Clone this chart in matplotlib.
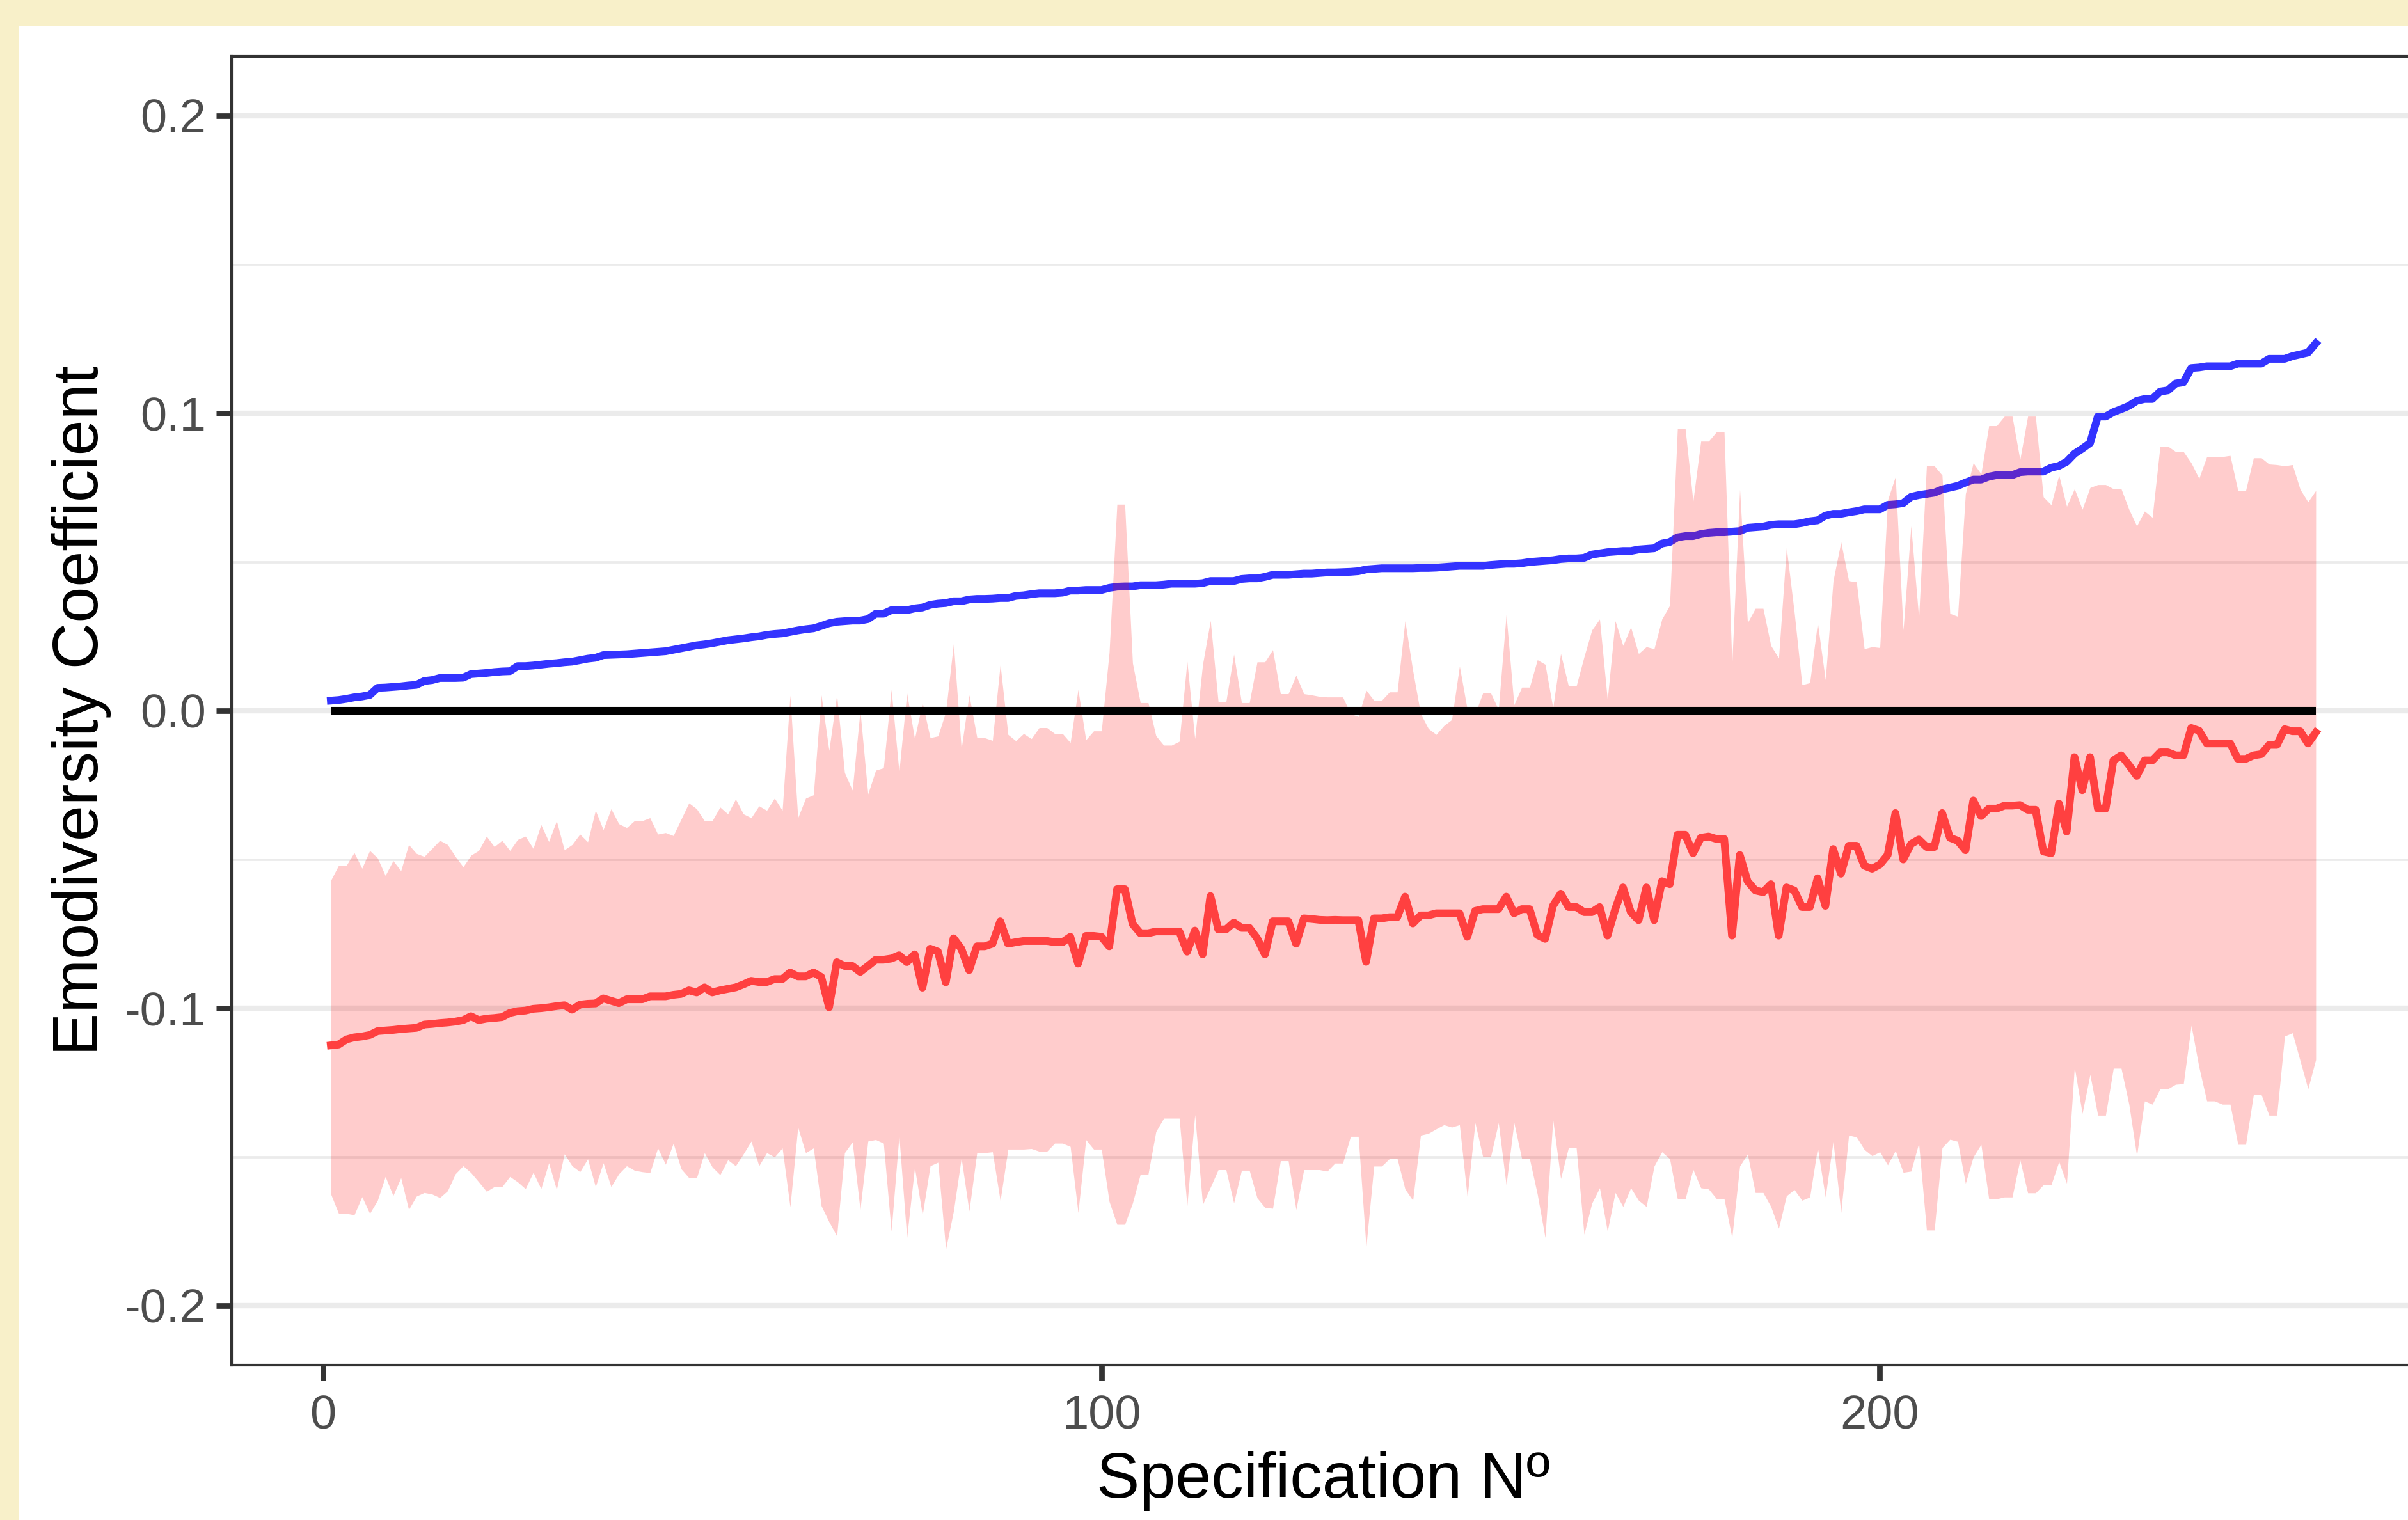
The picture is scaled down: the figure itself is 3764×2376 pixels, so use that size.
import numpy as np
import matplotlib
matplotlib.use("Agg")
import matplotlib.pyplot as plt
from matplotlib.patches import Rectangle

# specification number 1..256
spec = np.arange(1, 257)

# blue line (sorted coefficient)
blue_coef = [
    0.0034, 0.0036, 0.0040, 0.0045, 0.0048, 0.0053, 0.0077, 0.0078, 0.0080, 0.0082,
    0.0085, 0.0087, 0.0100, 0.0103, 0.0110, 0.0110, 0.0110, 0.0111, 0.0123, 0.0125,
    0.0127, 0.0130, 0.0132, 0.0133, 0.0150, 0.0150, 0.0152, 0.0155, 0.0158, 0.0160,
    0.0163, 0.0165, 0.0170, 0.0175, 0.0178, 0.0187, 0.0188, 0.0189, 0.0190, 0.0192,
    0.0194, 0.0196, 0.0198, 0.0200, 0.0205, 0.0210, 0.0215, 0.0220, 0.0223, 0.0227,
    0.0232, 0.0237, 0.0240, 0.0243, 0.0247, 0.0250, 0.0255, 0.0258, 0.0260, 0.0265,
    0.0270, 0.0274, 0.0277,
    0.0285, 0.0294, 0.0299, 0.0301, 0.0303, 0.0303, 0.0308, 0.0326, 0.0326, 0.0338,
    0.0338, 0.0338, 0.0344, 0.0347, 0.0356, 0.0360, 0.0362, 0.0368, 0.0368, 0.0374,
    0.0376, 0.0376, 0.0377, 0.0379, 0.0379, 0.0386, 0.0388, 0.0392, 0.0395, 0.0395,
    0.0395, 0.0397, 0.0404, 0.0404, 0.0406, 0.0406, 0.0406, 0.0413, 0.0417, 0.0418,
    0.0418, 0.0422, 0.0422, 0.0422, 0.0424, 0.0427, 0.0427, 0.0427, 0.0427, 0.0429,
    0.0436, 0.0436, 0.0436, 0.0436, 0.0443, 0.0445, 0.0445, 0.0450, 0.0457, 0.0457,
    0.0457, 0.0459, 0.0461, 0.0461, 0.0463,
    0.0465, 0.0465, 0.0466, 0.0467, 0.0469, 0.0475, 0.0477, 0.0479, 0.0479, 0.0479,
    0.0479, 0.0479, 0.0480, 0.0480, 0.0481, 0.0483, 0.0485, 0.0487, 0.0487, 0.0487,
    0.0487, 0.0490, 0.0492, 0.0494, 0.0494, 0.0496, 0.0500, 0.0502, 0.0504, 0.0506,
    0.0510, 0.0512, 0.0512, 0.0514, 0.0525, 0.0529, 0.0533, 0.0535, 0.0537, 0.0537,
    0.0542, 0.0544, 0.0546, 0.0562, 0.0567, 0.0583, 0.0587, 0.0587, 0.0594, 0.0598,
    0.0600, 0.0600, 0.0602, 0.0604, 0.0615, 0.0617, 0.0619, 0.0625, 0.0627, 0.0627,
    0.0627, 0.0631, 0.0637, 0.0640, 0.0656,
    0.0662, 0.0662, 0.0667, 0.0671, 0.0677, 0.0677, 0.0677, 0.0692, 0.0694, 0.0698,
    0.0719, 0.0725, 0.0729, 0.0733, 0.0744, 0.0750, 0.0756, 0.0767, 0.0777, 0.0777,
    0.0787, 0.0792, 0.0792, 0.0792, 0.0802, 0.0804, 0.0804, 0.0804, 0.0817, 0.0823,
    0.0837, 0.0864, 0.0881, 0.0900, 0.0989, 0.0989, 0.1004, 0.1014, 0.1025, 0.1042,
    0.1048, 0.1048, 0.1073, 0.1077, 0.1100, 0.1104, 0.1152, 0.1154, 0.1158, 0.1158,
    0.1158, 0.1158, 0.1167, 0.1167, 0.1167, 0.1167, 0.1183, 0.1183, 0.1183, 0.1192,
    0.1198, 0.1204, 0.1235,
]

# red line (estimate)
red_coef = [
    -0.1125, -0.1122, -0.1105, -0.1098, -0.1095, -0.1090, -0.1077, -0.1075, -0.1073, -0.1070,
    -0.1068, -0.1066, -0.1055, -0.1053, -0.1050, -0.1048, -0.1045, -0.1040, -0.1027, -0.1040,
    -0.1035, -0.1033, -0.1030, -0.1016, -0.1010, -0.1008, -0.1002, -0.1000, -0.0997, -0.0993,
    -0.0990, -0.1005, -0.0988, -0.0985, -0.0984, -0.0967, -0.0975, -0.0983, -0.0970, -0.0970,
    -0.0970, -0.0960, -0.0960, -0.0960, -0.0955, -0.0952, -0.0940, -0.0947, -0.0930, -0.0947,
    -0.0940, -0.0935, -0.0930, -0.0920, -0.0908, -0.0912, -0.0912, -0.0902, -0.0902, -0.0880,
    -0.0893, -0.0893, -0.0880,
    -0.0895, -0.0997, -0.0845, -0.0858, -0.0858, -0.0878, -0.0858, -0.0837, -0.0837, -0.0833,
    -0.0822, -0.0845, -0.0819, -0.0931, -0.0800, -0.0810, -0.0913, -0.0765, -0.0800, -0.0872,
    -0.0792, -0.0792, -0.0783, -0.0708, -0.0783, -0.0778, -0.0774, -0.0774, -0.0774, -0.0774,
    -0.0778, -0.0778, -0.0760, -0.0850, -0.0757, -0.0757, -0.0760, -0.0792, -0.0600, -0.0600,
    -0.0717, -0.0748, -0.0748, -0.0742, -0.0742, -0.0742, -0.0742, -0.0810, -0.0739, -0.0819,
    -0.0623, -0.0735, -0.0735, -0.0712, -0.0730, -0.0730, -0.0765, -0.0819, -0.0708, -0.0708,
    -0.0708, -0.0783, -0.0698, -0.0700, -0.0703,
    -0.0704, -0.0703, -0.0704, -0.0704, -0.0704, -0.0844, -0.0698, -0.0698, -0.0694, -0.0694,
    -0.0625, -0.0715, -0.0688, -0.0688, -0.0681, -0.0681, -0.0681, -0.0681, -0.0760, -0.0673,
    -0.0667, -0.0667, -0.0667, -0.0625, -0.0681, -0.0667, -0.0667, -0.0754, -0.0767, -0.0656,
    -0.0615, -0.0660, -0.0660, -0.0677, -0.0677, -0.0660, -0.0756, -0.0667, -0.0594, -0.0677,
    -0.0704, -0.0594, -0.0704, -0.0573, -0.0583, -0.0417, -0.0417, -0.0479, -0.0427, -0.0423,
    -0.0431, -0.0431, -0.0756, -0.0485, -0.0573, -0.0604, -0.0610, -0.0583, -0.0756, -0.0594,
    -0.0604, -0.0660, -0.0660, -0.0563, -0.0656,
    -0.0465, -0.0548, -0.0454, -0.0454, -0.0521, -0.0531, -0.0517, -0.0485, -0.0344, -0.0500,
    -0.0448, -0.0433, -0.0458, -0.0458, -0.0344, -0.0427, -0.0437, -0.0469, -0.0302, -0.0354,
    -0.0329, -0.0329, -0.0319, -0.0319, -0.0317, -0.0333, -0.0333, -0.0473, -0.0479, -0.0312,
    -0.0406, -0.0156, -0.0267, -0.0156, -0.0329, -0.0329, -0.0167, -0.0150, -0.0183, -0.0219,
    -0.0167, -0.0167, -0.0140, -0.0140, -0.0150, -0.0150, -0.0058, -0.0067, -0.0110, -0.0110,
    -0.0110, -0.0110, -0.0162, -0.0162, -0.0150, -0.0146, -0.0115, -0.0115, -0.0062, -0.0069,
    -0.0069, -0.0110, -0.0073,
]

# confidence band, upper edge
red_upper = [
    -0.0570, -0.0520, -0.0520, -0.0477, -0.0530, -0.0470, -0.0495, -0.0554, -0.0504, -0.0538,
    -0.0450, -0.0480, -0.0490, -0.0463, -0.0436, -0.0450, -0.0490, -0.0525, -0.0486, -0.0470,
    -0.0422, -0.0457, -0.0436, -0.0470, -0.0433, -0.0422, -0.0463, -0.0383, -0.0440, -0.0370,
    -0.0468, -0.0450, -0.0415, -0.0441, -0.0335, -0.0400, -0.0330, -0.0380, -0.0393, -0.0370,
    -0.0370, -0.0360, -0.0415, -0.0410, -0.0420, -0.0365, -0.0310, -0.0330, -0.0370, -0.0370,
    -0.0324, -0.0347, -0.0297, -0.0347, -0.0360, -0.0320, -0.0335, -0.0294, -0.0335, 0.0052,
    -0.0360, -0.0294, -0.0283,
    0.0053, -0.0134, 0.0053, -0.0208, -0.0267, 0.0000, -0.0280, -0.0200, -0.0192, 0.0071,
    -0.0205, 0.0059, -0.0094, 0.0027, -0.0091, -0.0085, -0.0004, 0.0226, -0.0128, 0.0053,
    -0.0089, -0.0091, -0.0100, 0.0155, -0.0080, -0.0101, -0.0077, -0.0094, -0.0057, -0.0057,
    -0.0077, -0.0077, -0.0107, 0.0071, -0.0098, -0.0068, -0.0068, 0.0196, 0.0694, 0.0694,
    0.0160, 0.0027, 0.0027, -0.0084, -0.0116, -0.0116, -0.0103, 0.0166, -0.0094, 0.0155,
    0.0303, 0.0030, 0.0030, 0.0190, 0.0027, 0.0027, 0.0164, 0.0164, 0.0205, 0.0057,
    0.0057, 0.0119, 0.0057, 0.0053, 0.0048,
    0.0046, 0.0046, 0.0046, -0.0010, -0.0020, 0.0069, 0.0035, 0.0035, 0.0063, 0.0063,
    0.0302, 0.0135, -0.0010, -0.0060, -0.0080, -0.0050, -0.0030, 0.0150, 0.0004, -0.0010,
    0.0060, 0.0060, 0.0004, 0.0323, 0.0020, 0.0079, 0.0079, 0.0171, 0.0156, 0.0010,
    0.0192, 0.0083, 0.0083, 0.0181, 0.0271, 0.0308, 0.0037, 0.0302, 0.0219, 0.0281,
    0.0192, 0.0215, 0.0208, 0.0308, 0.0354, 0.0948, 0.0948, 0.0704, 0.0906, 0.0906,
    0.0937, 0.0937, 0.0156, 0.0744, 0.0296, 0.0344, 0.0344, 0.0219, 0.0177, 0.0548,
    0.0333, 0.0087, 0.0094, 0.0296, 0.0104,
    0.0437, 0.0567, 0.0437, 0.0433, 0.0208, 0.0215, 0.0212, 0.0708, 0.0787, 0.0271,
    0.0621, 0.0312, 0.0823, 0.0823, 0.0792, 0.0327, 0.0317, 0.0729, 0.0833, 0.0796,
    0.0958, 0.0958, 0.0990, 0.0990, 0.0844, 0.0990, 0.0990, 0.0719, 0.0692, 0.0792,
    0.0687, 0.0746, 0.0677, 0.0750, 0.0760, 0.0760, 0.0746, 0.0746, 0.0677, 0.0621,
    0.0671, 0.0650, 0.0889, 0.0889, 0.0871, 0.0871, 0.0833, 0.0781, 0.0854, 0.0854,
    0.0854, 0.0858, 0.0740, 0.0740, 0.0850, 0.0850, 0.0829, 0.0827, 0.0823, 0.0827,
    0.0744, 0.0702, 0.0740,
]

# confidence band, lower edge
red_lower = [
    -0.1625, -0.1690, -0.1690, -0.1695, -0.1634, -0.1690, -0.1646, -0.1566, -0.1630, -0.1570,
    -0.1677, -0.1632, -0.1620, -0.1625, -0.1637, -0.1614, -0.1557, -0.1530, -0.1553, -0.1584,
    -0.1616, -0.1600, -0.1600, -0.1566, -0.1584, -0.1607, -0.1552, -0.1607, -0.1520, -0.1610,
    -0.1490, -0.1530, -0.1550, -0.1507, -0.1600, -0.1520, -0.1600, -0.1557, -0.1530, -0.1545,
    -0.1550, -0.1553, -0.1470, -0.1525, -0.1454, -0.1540, -0.1570, -0.1570, -0.1486, -0.1534,
    -0.1560, -0.1510, -0.1530, -0.1490, -0.1447, -0.1530, -0.1486, -0.1500, -0.1470, -0.1668,
    -0.1400, -0.1486, -0.1470,
    -0.1664, -0.1718, -0.1766, -0.1486, -0.1450, -0.1677, -0.1447, -0.1442, -0.1454, -0.1750,
    -0.1429, -0.1771, -0.1536, -0.1695, -0.1530, -0.1518, -0.1810, -0.1682, -0.1504, -0.1682,
    -0.1486, -0.1486, -0.1483, -0.1647, -0.1474, -0.1474, -0.1474, -0.1472, -0.1481, -0.1481,
    -0.1454, -0.1454, -0.1465, -0.1687, -0.1442, -0.1474, -0.1474, -0.1650, -0.1727, -0.1727,
    -0.1655, -0.1558, -0.1558, -0.1415, -0.1370, -0.1370, -0.1370, -0.1664, -0.1358, -0.1660,
    -0.1602, -0.1543, -0.1543, -0.1655, -0.1545, -0.1545, -0.1638, -0.1670, -0.1673, -0.1513,
    -0.1513, -0.1677, -0.1543, -0.1543, -0.1543,
    -0.1548, -0.1521, -0.1521, -0.1431, -0.1431, -0.1802, -0.1531, -0.1531, -0.1506, -0.1506,
    -0.1608, -0.1646, -0.1427, -0.1421, -0.1406, -0.1392, -0.1400, -0.1392, -0.1635, -0.1385,
    -0.1500, -0.1500, -0.1385, -0.1594, -0.1385, -0.1506, -0.1506, -0.1625, -0.1771, -0.1375,
    -0.1573, -0.1469, -0.1469, -0.1760, -0.1656, -0.1604, -0.1750, -0.1620, -0.1667, -0.1604,
    -0.1646, -0.1667, -0.1531, -0.1483, -0.1506, -0.1641, -0.1641, -0.1542, -0.1604, -0.1608,
    -0.1640, -0.1641, -0.1771, -0.1531, -0.1490, -0.1620, -0.1620, -0.1667, -0.1740, -0.1631,
    -0.1610, -0.1646, -0.1635, -0.1469, -0.1635,
    -0.1448, -0.1687, -0.1427, -0.1433, -0.1475, -0.1496, -0.1483, -0.1527, -0.1479, -0.1552,
    -0.1548, -0.1454, -0.1746, -0.1746, -0.1469, -0.1441, -0.1448, -0.1589, -0.1500, -0.1458,
    -0.1641, -0.1641, -0.1635, -0.1635, -0.1510, -0.1621, -0.1621, -0.1594, -0.1594, -0.1516,
    -0.1589, -0.1198, -0.1354, -0.1223, -0.1360, -0.1360, -0.1202, -0.1202, -0.1323, -0.1496,
    -0.1312, -0.1323, -0.1271, -0.1271, -0.1256, -0.1254, -0.1058, -0.1198, -0.1312, -0.1312,
    -0.1323, -0.1323, -0.1458, -0.1458, -0.1291, -0.1291, -0.1360, -0.1360, -0.1094, -0.1083,
    -0.1177, -0.1271, -0.1173,
]

y_ticks = [-0.2, -0.1, 0.0, 0.1, 0.2]
y_ticklabels = ["-0.2", "-0.1", "0.0", "0.1", "0.2"]
y_minor = [-0.15, -0.05, 0.05, 0.15]
x_ticks = [0, 100, 200]

assert len(blue_coef) == len(red_coef) == len(red_upper) == len(red_lower) == len(spec)

plt.rcParams['font.family'] = ['Liberation Sans', 'DejaVu Sans']

W, H, DPI = 3764, 2376, 300
beige = '#F8F0C9'
fig = plt.figure(figsize=(W / DPI, H / DPI), dpi=DPI, facecolor=beige)
# white plot background, beige strip only on left and top
fig.patches.append(Rectangle((29 / W, 0), 1, (H - 40) / H, transform=fig.transFigure,
                             facecolor='white', edgecolor='none', zorder=-10))

# panel runs a little past the right edge of the picture
ax = fig.add_axes([362 / W, (H - 2134) / H, (3775 - 362) / W, (2134 - 88) / H])
ax.set_zorder(1)
ax.set_facecolor('white')

lw = 2.9
ax.plot(spec, blue_coef, color='#3333FF', lw=lw, solid_joinstyle='round', zorder=2)
ax.fill_between(spec, red_lower, red_upper, color='red', alpha=0.2, lw=0, zorder=3)
ax.hlines(0, spec[0], spec[-1], color='black', lw=lw, zorder=4)
ax.plot(spec, red_coef, color='#FF4040', lw=lw, solid_joinstyle='round', zorder=5)

ax.set_xlim(-11.75, 268.75)
ax.set_ylim(-0.22, 0.22)
ax.set_xticks(x_ticks)
ax.set_xticklabels([str(t) for t in x_ticks])
ax.set_yticks(y_ticks)
ax.set_yticklabels(y_ticklabels)
ax.set_yticks(y_minor, minor=True)

ax.grid(which='major', axis='y', color='#EBEBEB', lw=2.0, zorder=0)
ax.grid(which='minor', axis='y', color='#EBEBEB', lw=0.9, zorder=0)
ax.set_axisbelow(True)

ax.tick_params(which='major', length=5.8, width=2.1, color='#333333',
               labelsize=17.8, labelcolor='#4D4D4D')
ax.tick_params(axis='x', which='major', pad=5)
ax.tick_params(axis='y', which='major', pad=3.8)
ax.tick_params(which='minor', length=0)
for s in ax.spines.values():
    s.set_linewidth(1.0)
    s.set_color('#333333')

ax.set_xlabel('Specification Nº', fontsize=24.2, labelpad=4.8)
ax.set_ylabel('Emodiversity Coefficient', fontsize=24.2, labelpad=5)

fig.savefig('out.png', dpi=DPI, facecolor=fig.get_facecolor())
